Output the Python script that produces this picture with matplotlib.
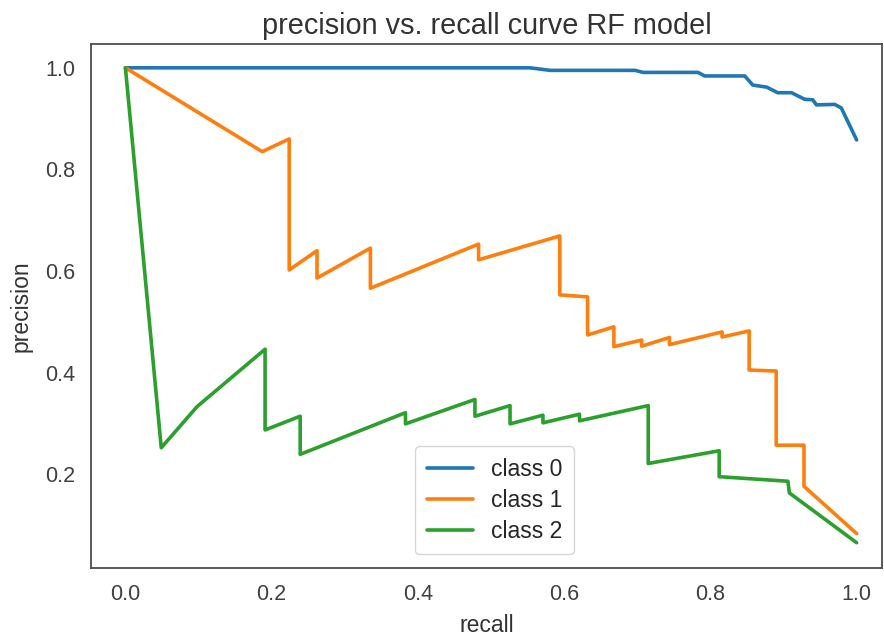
import matplotlib
matplotlib.use('Agg')
import matplotlib.pyplot as plt
import seaborn as sns

sns.set_style('white')
plt.rcParams['font.family'] = ['Liberation Sans', 'DejaVu Sans']

# recall / precision points, per class
recall_0 = [0.0, 0.553, 0.581, 0.697, 0.708, 0.783, 0.792, 0.847, 0.858, 0.877,
            0.892, 0.911, 0.929, 0.940, 0.945, 0.970, 0.979, 1.0]
precision_0 = [1.0, 1.0, 0.995, 0.995, 0.991, 0.991, 0.984, 0.984, 0.966, 0.962,
               0.951, 0.951, 0.938, 0.937, 0.927, 0.928, 0.921, 0.858]

recall_1 = [0.0, 0.187, 0.224, 0.224, 0.262, 0.262, 0.335, 0.335, 0.483, 0.483,
            0.594, 0.594, 0.632, 0.632, 0.668, 0.668, 0.706, 0.706, 0.744, 0.744,
            0.816, 0.816, 0.853, 0.853, 0.890, 0.890, 0.928, 0.928, 1.0]
precision_1 = [1.0, 0.835, 0.860, 0.602, 0.640, 0.586, 0.645, 0.566, 0.653, 0.622,
               0.669, 0.553, 0.549, 0.474, 0.490, 0.451, 0.464, 0.452, 0.469, 0.455,
               0.480, 0.470, 0.482, 0.405, 0.403, 0.257, 0.257, 0.176, 0.083]

recall_2 = [0.0, 0.049, 0.098, 0.191, 0.191, 0.239, 0.239, 0.383, 0.383, 0.478,
            0.478, 0.526, 0.526, 0.571, 0.571, 0.621, 0.621, 0.715, 0.715, 0.812,
            0.812, 0.906, 0.908, 1.0]
precision_2 = [1.0, 0.252, 0.333, 0.446, 0.287, 0.314, 0.239, 0.321, 0.299, 0.347,
               0.314, 0.335, 0.299, 0.316, 0.301, 0.318, 0.305, 0.335, 0.221, 0.246,
               0.195, 0.186, 0.163, 0.065]

labels = ['class 0', 'class 1', 'class 2']
colours = ['#1f77b4', '#ff7f0e', '#2ca02c']

fig, ax = plt.subplots(figsize=(8.84, 6.37), dpi=100)
fig.subplots_adjust(left=0.103, right=0.998, top=0.931, bottom=0.108)

series = [(recall_0, precision_0), (recall_1, precision_1), (recall_2, precision_2)]
for (r, p), lab, col in zip(series, labels, colours):
    ax.plot(r, p, lw=2.6, color=col, label=lab)

ax.set_xlim(-0.047, 1.035)
ax.set_ylim(0.0148, 1.047)
ax.set_xticks([0.0, 0.2, 0.4, 0.6, 0.8, 1.0])
ax.set_yticks([0.2, 0.4, 0.6, 0.8, 1.0])
ax.tick_params(labelsize=15.5, colors='0.25', pad=8)

for sp in ax.spines.values():
    sp.set_color('0.3')
    sp.set_linewidth(1.3)

ax.set_title('precision vs. recall curve RF model', fontsize=20.8, color='0.2', pad=7)
ax.set_xlabel('recall', fontsize=16.5, color='0.2', labelpad=6)
ax.set_ylabel('precision', fontsize=16.5, color='0.2', labelpad=9)

ax.legend(loc='lower center', bbox_to_anchor=(0.51, 0.005), fontsize=16.5,
          handlelength=2.0, labelspacing=0.35, borderpad=0.5)

plt.savefig('out.png', dpi=100)
